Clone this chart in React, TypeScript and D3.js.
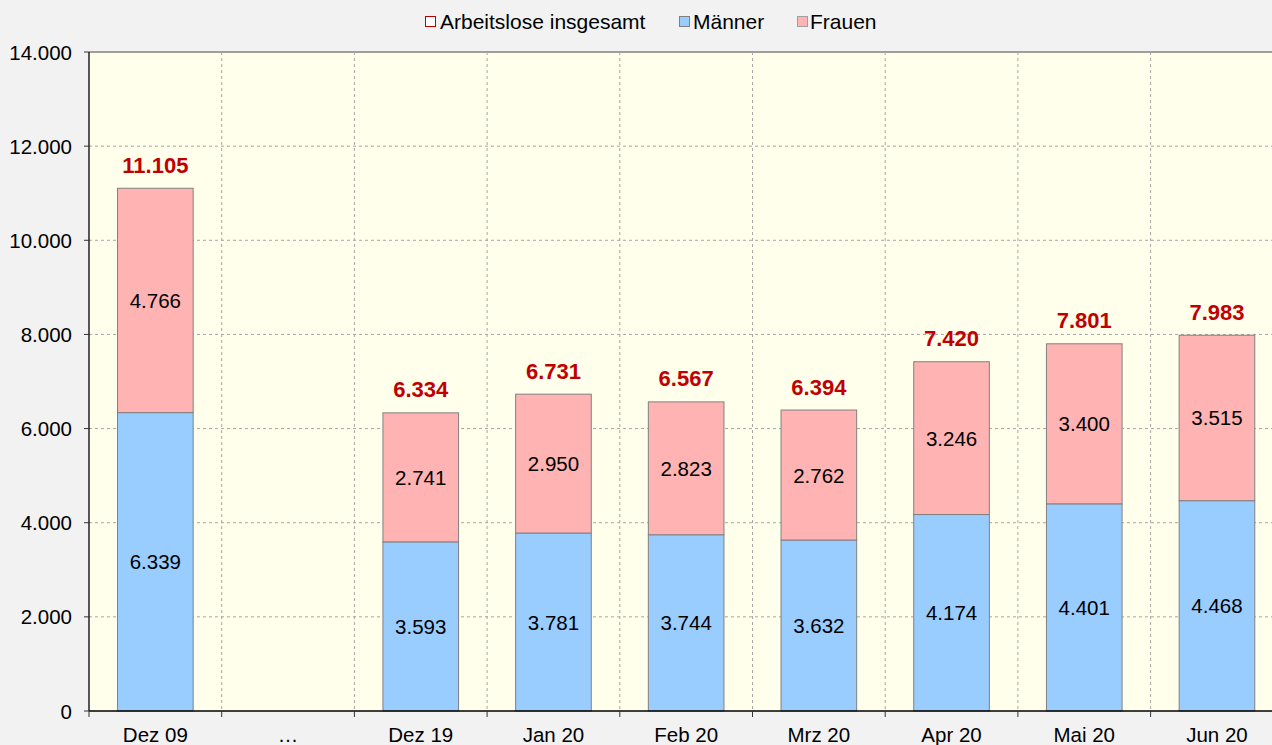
import React from "react";
import * as d3 from "d3";

const categories = ["Dez 09", "…", "Dez 19", "Jan 20", "Feb 20", "Mrz 20", "Apr 20", "Mai 20", "Jun 20"];
const maenner: (number | null)[] = [6339, null, 3593, 3781, 3744, 3632, 4174, 4401, 4468];
const frauen: (number | null)[] = [4766, null, 2741, 2950, 2823, 2762, 3246, 3400, 3515];
const insgesamt: (number | null)[] = [11105, null, 6334, 6731, 6567, 6394, 7420, 7801, 7983];
const yTicks = [0, 2000, 4000, 6000, 8000, 10000, 12000, 14000];

const W = 1272, H = 745;
const left = 89, top = 52, bottom = 711;
const slotW = 132.7;
const right = left + slotW * categories.length;

const fmt = (v: number) => d3.format(",")(v).replace(/,/g, ".");

export default function App() {
  const x = d3.scaleBand<string>().domain(categories).range([left, right]).padding(0);
  const y = d3.scaleLinear().domain([0, 14000]).range([bottom, top]);
  const bw = x.bandwidth() * 0.57;
  const font = "'Liberation Sans', Arial, sans-serif";
  const grid = "#a6a6a6";
  const fs = 20.5;

  return (
    <svg width={W} height={H} style={{ position: "absolute", left: 0, top: 0, fontFamily: font }}>
      <rect x={0} y={0} width={W} height={H} fill="#f2f2f2" />
      <rect x={left} y={top} width={right - left} height={bottom - top} fill="#ffffeb" />
      {/* horizontal grid */}
      {yTicks.filter(t => t > 0).map(t => (
        <line key={t} x1={left} x2={right} y1={y(t)} y2={y(t)} stroke={t === 14000 ? "#808080" : grid}
          strokeWidth={t === 14000 ? 1.5 : 1} strokeDasharray={t === 14000 ? undefined : "3,3"} />
      ))}
      {/* vertical grid */}
      {categories.slice(1).map(c => (
        <line key={c} x1={x(c)!} x2={x(c)!} y1={top} y2={bottom} stroke={grid} strokeDasharray="3,3" />
      ))}
      {/* bars */}
      {categories.map((c, i) => {
        const m = maenner[i], f = frauen[i], tot = insgesamt[i];
        if (m == null || f == null || tot == null) return null;
        const cx = x(c)! + x.bandwidth() / 2;
        const x0 = cx - bw / 2;
        return (
          <g key={c}>
            <rect x={x0} y={y(m)} width={bw} height={y(0) - y(m)} fill="#99ccff" stroke="#808080" strokeWidth={1} />
            <rect x={x0} y={y(m + f)} width={bw} height={y(m) - y(m + f)} fill="#ffb3b3" stroke="#808080" strokeWidth={1} />
            <text x={cx} y={y(m / 2)} textAnchor="middle" dominantBaseline="central" fontSize={fs} fill="#000">{fmt(m)}</text>
            <text x={cx} y={y(m + f / 2)} textAnchor="middle" dominantBaseline="central" fontSize={fs} fill="#000">{fmt(f)}</text>
            <text x={cx} y={y(tot) - 23} textAnchor="middle" dominantBaseline="central" fontSize={22} fontWeight="bold" fill="#c00000">{fmt(tot)}</text>
          </g>
        );
      })}
      {/* axes */}
      <line x1={left} x2={left} y1={top} y2={bottom} stroke="#000" strokeWidth={1.3} />
      <line x1={left} x2={right} y1={bottom} y2={bottom} stroke="#000" strokeWidth={1.3} />
      {yTicks.map(t => (
        <g key={t}>
          <line x1={left - 5} x2={left} y1={y(t)} y2={y(t)} stroke="#333" />
          <text x={72} y={y(t)} textAnchor="end" dominantBaseline="central" fontSize={fs} fill="#000">{fmt(t)}</text>
        </g>
      ))}
      {categories.map((c, i) => (
        <g key={c}>
          <line x1={x(c)!} x2={x(c)!} y1={bottom} y2={bottom + 6} stroke="#333" />
          <text x={x(c)! + x.bandwidth() / 2} y={734} textAnchor="middle" dominantBaseline="central" fontSize={fs} fill="#000">{c}</text>
        </g>
      ))}
      {/* legend */}
      <g>
        <rect x={425.5} y={16.5} width={10} height={10} fill="#fff" stroke="#c00000" strokeWidth={1} />
        <text x={440} y={21} dominantBaseline="central" fontSize={21}>Arbeitslose insgesamt</text>
        <rect x={679.5} y={16.5} width={10} height={10} fill="#99ccff" stroke="#808080" strokeWidth={1} />
        <text x={693} y={21} dominantBaseline="central" fontSize={21}>Männer</text>
        <rect x={797.5} y={16.5} width={10} height={10} fill="#ffb3b3" stroke="#a0a0a0" strokeWidth={1} />
        <text x={810} y={21} dominantBaseline="central" fontSize={21}>Frauen</text>
      </g>
    </svg>
  );
}
